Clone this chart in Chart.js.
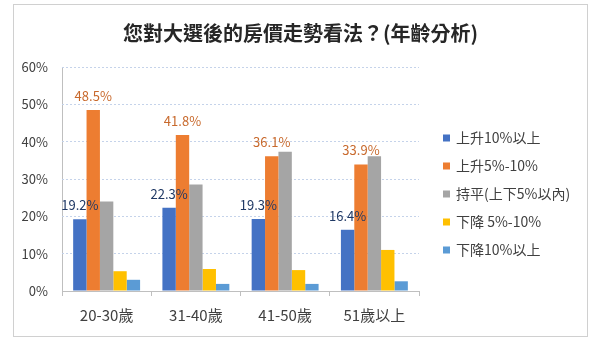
<!DOCTYPE html>
<html>
<head>
<meta charset="utf-8">
<script src="https://cdn.jsdelivr.net/npm/chart.js@4"></script>
<style>
  body { margin: 0; background: #fff; }
  #box {
    position: absolute; left: 13px; top: 4px;
    width: 575px; height: 333px;
    box-sizing: border-box; border: 1px solid #d0d0d0;
  }
</style>
</head>
<body>
<div id="box"><canvas id="grafico"></canvas></div>
<script>
const categorias = ['20-30歲', '31-40歲', '41-50歲', '51歲以上'];
const series = ['上升10%以上', '上升5%-10%', '持平(上下5%以內)', '下降 5%-10%', '下降10%以上'];
const subir10 = [19.2, 22.3, 19.3, 16.4];
const subir5 = [48.5, 41.8, 36.1, 33.9];
const estavel = [24.0, 28.5, 37.3, 36.1];
const cair5 = [5.3, 5.9, 5.6, 11.0];
const cair10 = [3.0, 1.9, 1.9, 2.6];
const cores = ['#4472C4', '#ED7D31', '#A5A5A5', '#FFC000', '#5B9BD5'];
const corRotulo = ['#1F3864', '#C8692C'];

const fonte = "'Noto Sans CJK TC', 'Noto Sans', sans-serif";

// value labels over the first two series
const rotulos = {
  id: 'rotulos',
  afterDatasetsDraw(chart) {
    const c = chart.ctx;
    c.save();
    c.font = '13px ' + fonte;
    c.textAlign = 'center';
    c.textBaseline = 'middle';
    [0, 1].forEach(i => {
      const meta = chart.getDatasetMeta(i);
      c.fillStyle = corRotulo[i];
      meta.data.forEach((bar, j) => {
        c.fillText(chart.data.datasets[i].data[j].toFixed(1) + '%', bar.x, bar.y - 14);
      });
    });
    c.restore();
  }
};

// legend on the right
const legenda = {
  id: 'legenda',
  afterDraw(chart) {
    const c = chart.ctx;
    const area = chart.chartArea;
    c.save();
    c.font = '14px ' + fonte;
    c.textBaseline = 'middle';
    c.textAlign = 'left';
    chart.data.datasets.forEach((ds, i) => {
      const y = area.top + 71 + i * 28;
      const x = area.right + 24;
      c.fillStyle = ds.backgroundColor;
      c.fillRect(x, y - 3.5, 7, 7);
      c.fillStyle = '#404040';
      c.fillText(ds.label, x + 13, y);
    });
    c.restore();
  }
};

const dados = [subir10, subir5, estavel, cair5, cair10];

new Chart(document.getElementById('grafico'), {
  type: 'bar',
  data: {
    labels: categorias,
    datasets: dados.map((d, i) => ({
      label: series[i],
      data: d,
      backgroundColor: cores[i],
      categoryPercentage: 0.75,
      barPercentage: 1
    }))
  },
  options: {
    responsive: true,
    maintainAspectRatio: false,
    animation: false,
    layout: { padding: { left: 0, right: 0, top: 0, bottom: 2 } },
    plugins: {
      legend: { display: false },
      tooltip: { enabled: false },
      title: {
        display: true,
        text: '您對大選後的房價走勢看法？(年齡分析)',
        color: '#262626',
        font: { family: fonte, size: 20, weight: 'bold' },
        padding: { top: 16, bottom: 22 }
      }
    },
    scales: {
      x: {
        offset: true,
        grid: {
          display: true,
          offset: true,
          tickLength: 5,
          tickColor: '#BFBFBF',
          color: ctx => ctx.index === 0 ? '#BFBFBF' : 'transparent'
        },
        border: { color: '#BFBFBF' },
        ticks: { color: '#404040', padding: 10, font: { family: fonte, size: 15 } }
      },
      y: {
        min: 0,
        max: 60,
        afterFit(scale) { scale.width = 48; },
        grid: { color: '#C5D3EA', drawTicks: false },
        border: { display: false, dash: [2, 2] },
        ticks: {
          stepSize: 10,
          padding: 14,
          color: '#404040',
          font: { family: fonte, size: 13 },
          callback: v => v + '%'
        }
      },
      espaco: {
        position: 'right',
        display: true,
        afterFit(scale) { scale.width = 168; },
        grid: { display: false },
        border: { display: false },
        ticks: { display: false }
      }
    }
  },
  plugins: [rotulos, legenda]
});
</script>
</body>
</html>
